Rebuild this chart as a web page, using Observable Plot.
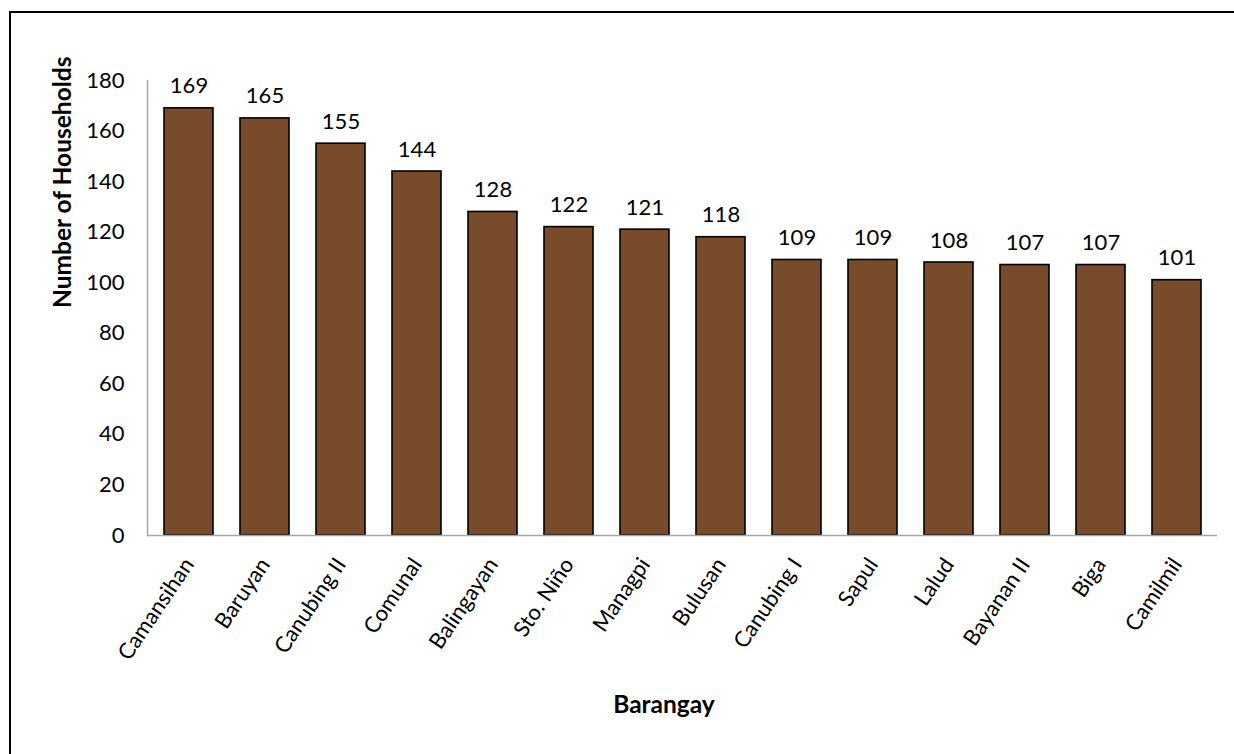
<!DOCTYPE html>
<html>
<head>
<meta charset="utf-8">
<script src="https://cdn.jsdelivr.net/npm/d3@7"></script>
<script src="https://cdn.jsdelivr.net/npm/@observablehq/plot@0.6"></script>
<style>
  html, body { margin: 0; padding: 0; background: #fff; overflow: hidden; }
  #chart { position: absolute; left: 0; top: 0; }
  #border { position: absolute; left: 9px; top: 11px; width: 1400px; height: 900px;
            border: 2.5px solid #000; pointer-events: none; box-sizing: border-box; }
</style>
</head>
<body>
<div id="chart"></div>
<div id="border"></div>
<script>
const barangays = ["Camansihan", "Baruyan", "Canubing II", "Comunal", "Balingayan", "Sto. Niño",
  "Managpi", "Bulusan", "Canubing I", "Sapul", "Lalud", "Bayanan II", "Biga", "Camilmil"];
const households = [169, 165, 155, 144, 128, 122, 121, 118, 109, 109, 108, 107, 107, 101];
const yTicks = [0, 20, 40, 60, 80, 100, 120, 140, 160, 180];
const yTitle = "Number of Households";
const xTitle = "Barangay";

const data = barangays.map((name, i) => ({name, value: households[i]}));

const chart = Plot.plot({
  width: 1234,
  height: 754,
  marginLeft: 147,
  marginRight: 17,
  marginTop: 80,
  marginBottom: 219,
  style: {fontFamily: "Lato, 'Open Sans', sans-serif", fontSize: "22px", color: "#000", background: "#fff"},
  x: {domain: barangays, paddingInner: 0.36, paddingOuter: 0.18, label: null},
  y: {domain: [0, 180], label: null},
  marks: [
    Plot.frame({anchor: "left", stroke: "#a6a6a6", strokeWidth: 1.5}),
    Plot.barY(data, {x: "name", y: "value", fill: "#784b2a", stroke: "#000", strokeWidth: 1.6}),
    Plot.ruleY([0], {stroke: "#a6a6a6", strokeWidth: 1.5}),
    Plot.axisY({ticks: yTicks, tickSize: 0, tickPadding: 23, label: null, fontSize: 22}),
    Plot.axisX({tickSize: 0, tickPadding: 25, tickRotate: -56, label: null, fontSize: 22}),
    Plot.text(data, {x: "name", y: "value", text: d => String(d.value), dy: -15, lineAnchor: "bottom", fontSize: 22, fill: "#000"}),
    Plot.text([yTitle], {frameAnchor: "left", dx: -84, rotate: -90, fontSize: 24.5, fontWeight: "bold", fill: "#000"}),
    Plot.text([xTitle], {frameAnchor: "bottom", dx: -18.5, dy: 177, fontSize: 24.5, fontWeight: "bold", fill: "#000"})
  ]
});
document.getElementById("chart").appendChild(chart);
</script>
</body>
</html>
